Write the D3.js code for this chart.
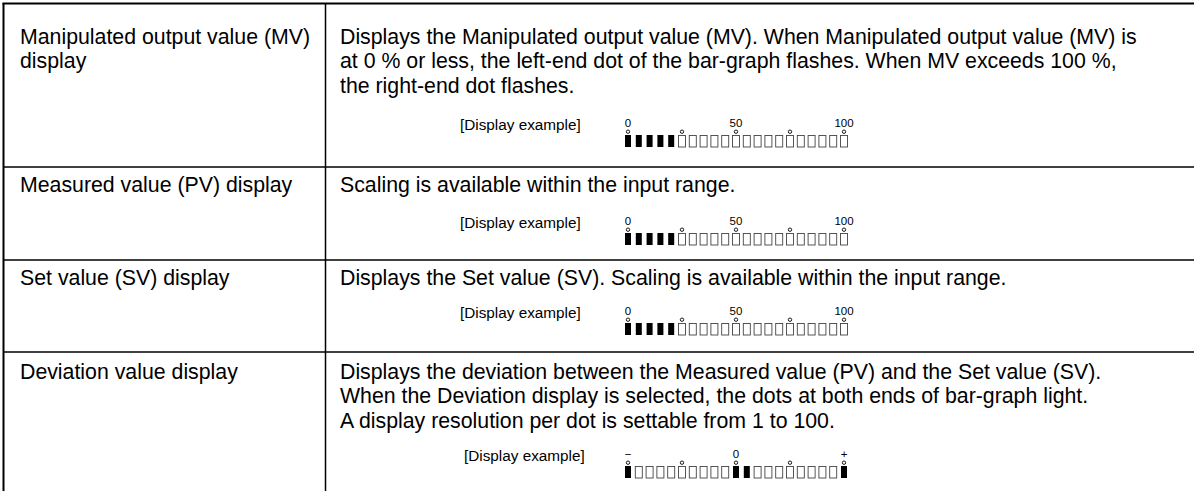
<!DOCTYPE html>
<html><head><meta charset="utf-8">
<script src="https://cdn.jsdelivr.net/npm/d3@7"></script>
<style>
html,body{margin:0;padding:0;background:#fff;}
svg{display:block;}
text{font-family:"Liberation Sans",Arial,sans-serif;fill:#000;}
</style></head>
<body>
<svg id="c" width="1194" height="491"></svg>
<script>
const rowNames = [
  ["Manipulated output value (MV)", "display"],
  ["Measured value (PV) display"],
  ["Set value (SV) display"],
  ["Deviation value display"]
];
const rowTexts = [
  ["Displays the Manipulated output value (MV). When Manipulated output value (MV) is",
   "at 0 % or less, the left-end dot of the bar-graph flashes. When MV exceeds 100 %,",
   "the right-end dot flashes."],
  ["Scaling is available within the input range."],
  ["Displays the Set value (SV). Scaling is available within the input range."],
  ["Displays the deviation between the Measured value (PV) and the Set value (SV).",
   "When the Deviation display is selected, the dots at both ends of bar-graph light.",
   "A display resolution per dot is settable from 1 to 100."]
];
const exampleLabel = "[Display example]";
const segmentIndex = d3.range(21);
const dotIndex = [0, 5, 10, 15, 20];
const tickIndex = [0, 10, 20];
const percentTicks = ["0", "50", "100"];
const deviationTicks = ["\u2212", "0", "+"];
const mvLit = [0, 1, 2, 3, 4];
const deviationLit = [0, 10, 11, 20];

const rowTop = [3.5, 167, 260, 352];
const layout = [
  {ticks: percentTicks, lit: mvLit, barTop: 135, exX: 460},
  {ticks: percentTicks, lit: mvLit, barTop: 233, exX: 460},
  {ticks: percentTicks, lit: mvLit, barTop: 323, exX: 460},
  {ticks: deviationTicks, lit: deviationLit, barTop: 466, exX: 464}
];
const rowTextY = [43.5, 192, 285, 378.5];
const lineH = 24.5;

const svg = d3.select("#c");
const colX = 325.5, leftX = 3.5;

// grid
svg.append("line").attr("x1", leftX - 1).attr("x2", 1194).attr("y1", 3.5).attr("y2", 3.5)
  .attr("stroke", "#000").attr("stroke-width", 2);
svg.append("line").attr("x1", leftX).attr("x2", leftX).attr("y1", 3).attr("y2", 491)
  .attr("stroke", "#000").attr("stroke-width", 2);
svg.append("line").attr("x1", colX).attr("x2", colX).attr("y1", 3).attr("y2", 491)
  .attr("stroke", "#000").attr("stroke-width", 1.5);
svg.selectAll("line.row").data(rowTop.slice(1)).join("line").attr("class", "row")
  .attr("x1", leftX).attr("x2", 1194).attr("y1", d => d).attr("y2", d => d)
  .attr("stroke", "#000").attr("stroke-width", 1.6);

const fs = 21.3;
rowNames.forEach((lines, i) => {
  const t = svg.append("text").attr("font-size", fs);
  lines.forEach((l, j) => t.append("tspan").attr("x", 20).attr("y", rowTextY[i] + j * lineH).text(l));
});
rowTexts.forEach((lines, i) => {
  const t = svg.append("text").attr("font-size", fs);
  lines.forEach((l, j) => t.append("tspan").attr("x", 340).attr("y", rowTextY[i] + j * lineH).text(l));
});

const x = d3.scaleLinear().domain([0, 20]).range([628, 844]);
layout.forEach((L, i) => {
  const g = svg.append("g");
  const isLit = d => L.lit.includes(d);
  g.append("text").attr("x", L.exX).attr("y", L.barTop - 5.5).attr("font-size", 15.3).text(exampleLabel);
  g.selectAll("text.tick").data(tickIndex).join("text").attr("class", "tick")
    .attr("x", d => x(d)).attr("y", L.barTop - 8).attr("font-size", 11.5)
    .attr("text-anchor", "middle").text((d, k) => L.ticks[k]);
  g.selectAll("circle").data(dotIndex).join("circle")
    .attr("cx", d => x(d)).attr("cy", L.barTop - 3.3).attr("r", 1.7)
    .attr("fill", "#fff").attr("stroke", "#000").attr("stroke-width", 0.9);
  g.selectAll("rect").data(segmentIndex).join("rect")
    .attr("x", d => isLit(d) ? x(d) - 3 : x(d) - 3.5)
    .attr("y", d => isLit(d) ? L.barTop : L.barTop + 0.5)
    .attr("width", d => isLit(d) ? 6 : 7)
    .attr("height", d => isLit(d) ? 12 : 11.5)
    .attr("fill", d => isLit(d) ? "#000" : "#fff")
    .attr("stroke", d => isLit(d) ? "none" : "#444")
    .attr("stroke-width", 0.9);
});
</script>
</body></html>
